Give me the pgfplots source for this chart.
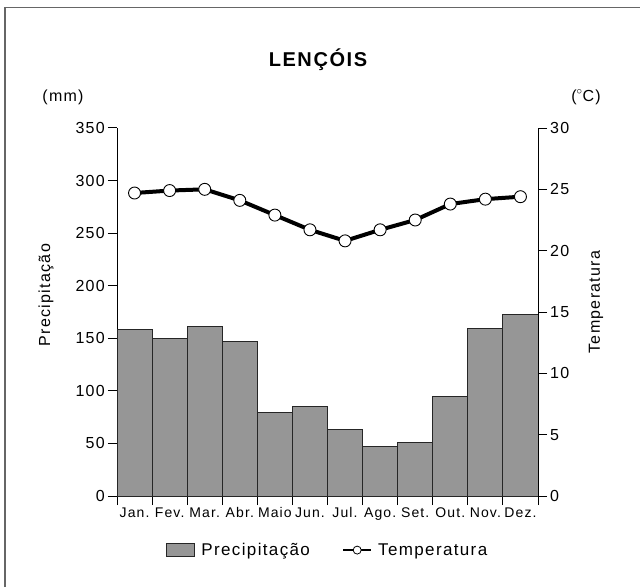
\documentclass[border=0pt]{standalone}
\usepackage{pgfplots}
\pgfplotsset{compat=1.18}
\usepackage{fontspec}
\setmainfont{Liberation Sans}
\newfontfamily\spaced[LetterSpace=8]{Liberation Sans}
\definecolor{bargray}{RGB}{150,150,150}
\pgfplotstableread{
m prec temp
1 158 24.7
2 150 24.9
3 161 25.0
4 147 24.1
5 79 22.9
6 85 21.7
7 63 20.8
8 47 21.7
9 51 22.5
10 95 23.8
11 159 24.2
12 173 24.4
}\climadata
\begin{document}
\begin{tikzpicture}[x=1pt,y=1pt]
\useasboundingbox (0,0) rectangle (640,587);
\draw[line width=1.6pt, black!60] (5,0) -- (5,579.5) -- (640,579.5);
\pgfplotsset{
  common/.style={
    at={(117pt,91pt)}, anchor=south west,
    scale only axis, width=421pt, height=368pt,
    xmin=0.5, xmax=12.5,
    tick align=outside, major tick length=9pt,
    axis line style={black, line width=1pt},
    every tick/.style={black, line width=1pt},
    /pgf/number format/assume math mode=true,
    ticklabel style={font=\spaced\fontsize{16}{18}\selectfont},
    yticklabel style={inner sep=3pt},
  }
}
\begin{axis}[common,
  axis y line*=left, axis x line*=bottom,
  ymin=0, ymax=350, ytick={0,50,...,350},
  xtick={0.5,1.5,...,12.5}, x tick label as interval,
  xticklabels={Jan.,Fev.,Mar.,Abr.,Maio,Jun.,Jul.,Ago.,Set.,Out.,Nov.,Dez.},
  xticklabel style={font=\spaced\fontsize{14}{16}\selectfont, yshift=1pt},
]
\addplot[ybar, bar width=1, bar shift=0pt, fill=bargray, draw=black!85, line width=0.9pt] table[x=m, y=prec] {\climadata};
\end{axis}
\begin{axis}[common,
  axis y line*=right, axis x line=none,
  ymin=0, ymax=30, ytick={0,5,...,30},
  legend style={at={(0.5,-0.147)}, anchor=center, draw=none, fill=none,
    legend columns=2, font=\spaced\fontsize{17}{19}\selectfont,
    /tikz/every even column/.append style={column sep=30pt}},
  legend cell align=left,
]
\addlegendimage{legend image code/.code={\draw[fill=bargray, draw=black!85, line width=0.9pt] (0pt,-6.5pt) rectangle (28pt,6.5pt); \path (33pt,0pt);}}
\addlegendentry{Precipitação}
\addplot[black, line width=4pt, mark=*, mark size=6pt,
  mark options={fill=white, draw=black, line width=0.9pt},
  legend image code/.code={\draw[black, line width=2.5pt] (0pt,0pt) -- (28pt,0pt); \draw[fill=white, draw=black, line width=0.8pt] (14pt,0pt) circle (4pt); \path (31pt,0pt);}]
  table[x=m, y=temp] {\climadata};
\addlegendentry{Temperatura}
\end{axis}
\node[font=\spaced\bfseries\fontsize{20}{23}\selectfont] at (318,527) {LENÇÓIS};
\node[font=\spaced\fontsize{16}{18}\selectfont] at (63,490) {(mm)};
\node[font=\spaced\fontsize{16}{18}\selectfont] at (586,490) {($^{\circ}$C)};
\node[rotate=90, font=\spaced\fontsize{16}{18}\selectfont] at (46,292) {Precipitação};
\node[rotate=90, font=\spaced\fontsize{16}{18}\selectfont] at (596,285) {Temperatura};
\end{tikzpicture}
\end{document}
